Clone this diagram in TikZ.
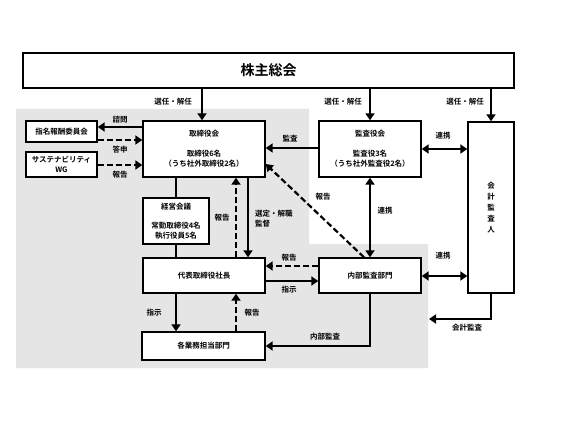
\documentclass[tikz,border=0pt]{standalone}
\usepackage{fontspec}
\setmainfont{Noto Sans CJK JP}[BoldFont={Noto Sans CJK JP Bold}]
\usetikzlibrary{arrows.meta,calc}
\begin{document}
\begin{tikzpicture}[x=1pt,y=-1pt,
  box/.style={draw,line width=1.4pt,fill=white,align=center,inner sep=0pt,font=\fontsize{7.5}{10}\selectfont\bfseries},
  lbl/.style={inner sep=0pt,align=left,font=\fontsize{7.5}{10}\selectfont\bfseries},
  arr/.style={line width=2.2pt,-{Triangle[length=7pt,width=9pt]}},
  darr/.style={line width=2.2pt,{Triangle[length=7pt,width=9pt]}-{Triangle[length=7pt,width=9pt]}},
  dsh/.style={arr,dash pattern=on 6pt off 3pt},
  plain/.style={line width=2.2pt}]
\useasboundingbox (0,0) rectangle (567,425);
\fill[white] (0,0) rectangle (567,425);
\fill[gray!20] (16,109) -- (309,109) -- (309,244) -- (428,244) -- (428,368) -- (16,368) -- cycle;

\node[box,minimum width=491pt,minimum height=35pt,font=\fontsize{14}{16}\selectfont\bfseries] (soukai) at (268.5,70.5) {株主総会};
\node[box,minimum width=122pt,minimum height=56pt] (tori) at (204,149) {取締役会\\[10pt]取締役6名\\（うち社外取締役2名）};
\node[box,minimum width=71pt,minimum height=21pt] (shimei) at (61.5,131.5) {指名報酬委員会};
\node[box,minimum width=71pt,minimum height=25pt] (sus) at (61.5,164.5) {サステナビリティ\\WG};
\node[box,minimum width=102pt,minimum height=56pt] (kansa) at (370,149) {監査役会\\[10pt]監査役3名\\（うち社外監査役2名）};
\node[box,minimum width=46pt,minimum height=171pt] (kaikei) at (491,207.5) {会\\[1pt]計\\[1pt]監\\[1pt]査\\[1pt]人};
\node[box,minimum width=66pt,minimum height=46pt] (keiei) at (176,221) {経営会議\\[9pt]常勤取締役4名\\執行役員5名};
\node[box,minimum width=122pt,minimum height=35pt] (daihyo) at (204,275.5) {代表取締役社長};
\node[box,minimum width=102pt,minimum height=35pt] (naibu) at (370,275.5) {内部監査部門};
\node[box,minimum width=123pt,minimum height=28pt] (kakugyo) at (203.5,346) {各業務担当部門};

\coordinate (c1) at (491,319);
\coordinate (c2) at (429,319);
\coordinate (c3) at (370,346);

% shareholders
\draw[arr] (soukai.south -| 202,0) -- (tori.north -| 202,0);
\draw[arr] (soukai.south -| kansa.north) -- (kansa.north);
\draw[arr] (soukai.south -| kaikei.north) -- (kaikei.north);
\node[lbl] at (173,102) {選任・解任};
\node[lbl] at (343,102) {選任・解任};
\node[lbl] at (465,102) {選任・解任};

% committees
\draw[arr] (tori.west |- 0,127) -- (shimei.east |- 0,127);
\draw[dsh] (shimei.east |- 0,140) -- (tori.west |- 0,140);
\draw[dsh] (sus.east |- 0,165) -- (tori.west |- 0,165);
\node[lbl] at (120,120) {諮問};
\node[lbl] at (120,150) {答申};
\node[lbl] at (120,175) {報告};

% audit board
\draw[arr] (kansa.west |- 0,148) -- (tori.east |- 0,148);
\node[lbl] at (290,139) {監査};
\draw[darr] (kansa.east |- 0,149) -- (kaikei.west |- 0,149);
\node[lbl] at (443,136) {連携};

% board - management
\draw[plain] (tori.south -| keiei.north) -- (keiei.north);
\draw[plain] (keiei.south) -- (daihyo.north -| keiei.south);
\draw[dsh] (daihyo.north -| 236,0) -- (tori.south -| 236,0);
\node[lbl] at (222,218) {報告};
\draw[arr] (tori.south -| 248,0) -- (daihyo.north -| 248,0);
\node[lbl,anchor=west] at (255,219) {選定・解職\\監督};

% president - internal audit
\draw[dsh] (naibu.west |- 0,266) -- (daihyo.east |- 0,266);
\node[lbl] at (289,258) {報告};
\draw[arr] (daihyo.east |- 0,281) -- (naibu.west |- 0,281);
\node[lbl] at (289,290) {指示};

\draw[darr] (kansa.south) -- (naibu.north);
\node[lbl] at (385,211) {連携};
\draw[dsh] (naibu.north -| 364,0) -- (tori.east |- 0,164);
\node[lbl] at (323,197) {報告};

\draw[darr] (naibu.east |- 0,276) -- (kaikei.west |- 0,276);
\node[lbl] at (443,256) {連携};

\draw[arr] (kaikei.south) -- (c1) -- (c2);
\node[lbl] at (467,328) {会計監査};

% operations
\draw[arr] (daihyo.south -| keiei.south) -- (kakugyo.north -| keiei.south);
\node[lbl] at (154,313) {指示};
\draw[dsh] (kakugyo.north -| 236,0) -- (daihyo.south -| 236,0);
\node[lbl] at (252,313) {報告};
\draw[arr] (naibu.south) -- (c3) -- (kakugyo.east);
\node[lbl] at (325,337) {内部監査};
\end{tikzpicture}
\end{document}
